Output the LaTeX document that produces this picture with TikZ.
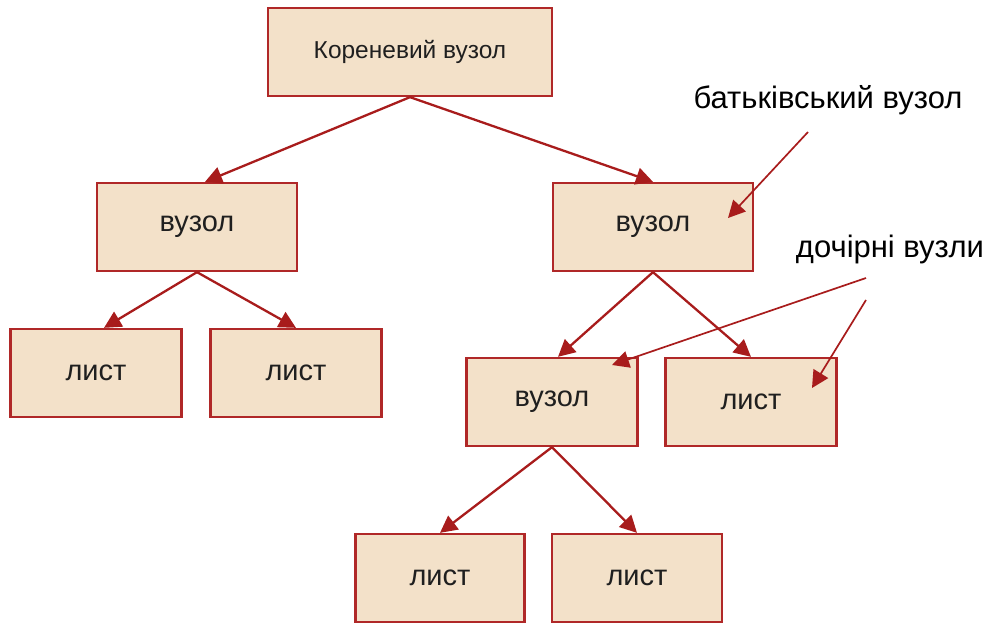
\documentclass[tikz,border=0pt]{standalone}
\usepackage{fontspec}
\setmainfont{Liberation Sans}
\usepackage{xcolor}
\usepackage{tikz}
\usetikzlibrary{positioning,arrows.meta}

\definecolor{boxred}{HTML}{B02828}
\definecolor{boxfill}{HTML}{F3E1C9}
\definecolor{linkred}{HTML}{A81C1C}

\begin{document}
\begin{tikzpicture}[x=1pt, y=-1pt, font=\fontsize{29}{34}\selectfont,
		box/.style={draw=boxred, fill=boxfill, line width=2.3pt, minimum height=88pt, minimum width=171pt, text=black!88},
		link/.style={draw=linkred, line width=2.3pt, -{Triangle[length=17pt, width=17pt]}},
		note/.style={draw=linkred, line width=1.7pt, -{Triangle[length=17pt, width=17pt]}}]
		\useasboundingbox (0,0) rectangle (989,623);
		% boxes
		\node[box, minimum width=284pt, font=\fontsize{24.5}{28}\selectfont] (root) at (410,52) {Кореневий вузол};
		\node[box, minimum width=200pt] (lnode) at (197,227) {вузол};
		\node[box, minimum width=200pt] (rnode) at (653,227) {вузол};
		\node[box] (leaf1) at (96,373) {лист};
		\node[box] (leaf2) at (296,373) {лист};
		\node[box] (mnode) at (552,402) {вузол};
		\node[box] (leaf3) at (751,402) {лист};
		\node[box, minimum width=169pt] (leaf4) at (440,578) {лист};
		\node[box, minimum width=170pt] (leaf5) at (637,578) {лист};
		% tree links
		\draw[link] (root.south) -- ([xshift=8pt]lnode.north);
		\draw[link] (root.south) -- (rnode.north);
		\draw[link] (lnode.south) -- ([xshift=8pt]leaf1.north);
		\draw[link] (lnode.south) -- (leaf2.north);
		\draw[link] (rnode.south) -- ([xshift=6pt]mnode.north);
		\draw[link] (rnode.south) -- (leaf3.north);
		\draw[link] (mnode.south) -- (leaf4.north);
		\draw[link] (mnode.south) -- (leaf5.north);
		% annotations
		\node[font=\fontsize{31}{36}\selectfont] (parent) at (828,100) {батьківський вузол};
		\node[font=\fontsize{31}{36}\selectfont] (children) at (890,249) {дочірні вузли};
		\coordinate (pa) at (808,132);
		\coordinate (pb) at (728,218);
		\coordinate (ca) at (866,278);
		\coordinate (cb) at (612,365);
		\coordinate (cc) at (866,300);
		\coordinate (cd) at (812,388);
		\draw[note] (pa) -- (pb);
		\draw[note] (ca) -- (cb);
		\draw[note] (cc) -- (cd);
	\end{tikzpicture}
\end{document}
